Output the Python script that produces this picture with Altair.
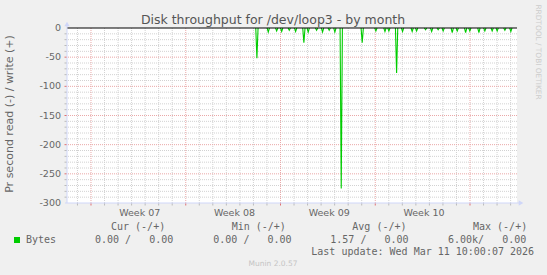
import altair as alt
import pandas as pd

# ---------------- data ----------------
TITLE = "Disk throughput for /dev/loop3 - by month"
Y_TITLE = "Pr second read (-) / write (+)"
WEEK_LABELS = ["Week 07", "Week 08", "Week 09", "Week 10"]
WEEK_STARTS = [1.773, 8.773, 15.773, 22.773, 29.773]   # days from left edge of plot
X_END = 33.245                                          # days shown
Y_TICKS = [0, -50, -100, -150, -200, -250, -300]

SPIKE_DAY = [14.03, 14.87, 15.49, 15.86, 16.42, 16.89, 17.50, 17.82, 18.44, 18.88,
             19.37, 19.79, 20.26, 21.81, 22.82, 23.49, 23.78, 24.35, 24.79, 25.50,
             25.83, 26.49, 26.94, 27.42, 27.79, 28.46, 28.83, 29.45, 29.76, 30.43,
             30.87, 31.41, 31.78, 32.35, 32.79]
SPIKE_READ = [-52, -7, -5, -6, -4, -6, -25, -7, -4, -7,
              -4, -7, -275, -25, -5, -6, -5, -77, -6, -6,
              -5, -3, -6, -3, -5, -8, -5, -8, -5, -8,
              -5, -5, -5, -4, -6]

LEGEND_HEAD = ["Cur (-/+)", "Min (-/+)", "Avg (-/+)", "Max (-/+)"]
LEGEND_SERIES = "Bytes"
LEGEND_VALS = ["0.00 /   0.00", "0.00 /   0.00", "1.57 /   0.00", "6.00k/   0.00"]
LAST_UPDATE = "Last update: Wed Mar 11 10:00:07 2026"
MUNIN = "Munin 2.0.57"
RRD = "RRDTOOL / TOBI OETIKER"

# ---------------- styling ----------------
W, H = 450, 175
FONT = "DejaVu Sans"
MONO = "DejaVu Sans Mono"
TXT = "#666666"
AXIS = "#CFD6F8"
MINOR = "#d2d2d2"
MAJOR = "#eaa8a8"
GREEN = "#00CC00"

X_SCALE = alt.Scale(domain=[0, X_END], nice=False, zero=False)
Y_SCALE = alt.Scale(domain=[-300, 0], nice=False, zero=False)

# line table built from spikes (each spike its own segment)
half = 0.085
rows = []
for i, (d, v) in enumerate(zip(SPIKE_DAY, SPIKE_READ)):
    rows += [(i, d - half, 0.0), (i, d, v), (i, d + half, 0.0)]
line_df = pd.DataFrame(rows, columns=["k", "day", "read"])

day_ticks = [WEEK_STARTS[0] - 1 + k for k in range(40) if 0 <= WEEK_STARTS[0] - 1 + k <= X_END]
minor_days = [d for d in day_ticks if all(abs(d - w) > 1e-6 for w in WEEK_STARTS)]
minor_y = [v for v in range(-290, 0, 10) if v % 50 != 0]
major_y = [v for v in Y_TICKS if v not in (0, -300)]

def X(field):
    return alt.X(field, type="quantitative", scale=X_SCALE, axis=None)

def Y(field):
    return alt.Y(field, type="quantitative", scale=Y_SCALE, axis=None)

def txt(s, x, y, size, font=FONT, color=TXT, align="left", baseline="middle", angle=0):
    return alt.Chart(pd.DataFrame({"t": [s]})).mark_text(
        align=align, baseline=baseline, font=font, fontSize=size, color=color, angle=angle
    ).encode(x=alt.value(x), y=alt.value(y), text="t:N")

layers = []

# grids
layers.append(alt.Chart(pd.DataFrame({"d": minor_days})).mark_rule(
    color=MINOR, strokeDash=[1, 1], strokeWidth=1).encode(x=X("d")))
layers.append(alt.Chart(pd.DataFrame({"v": minor_y})).mark_rule(
    color=MINOR, strokeDash=[1, 1], strokeWidth=1).encode(y=Y("v")))
layers.append(alt.Chart(pd.DataFrame({"d": WEEK_STARTS})).mark_rule(
    color=MAJOR, strokeDash=[1, 1], strokeWidth=1).encode(x=X("d")))
layers.append(alt.Chart(pd.DataFrame({"v": major_y})).mark_rule(
    color=MAJOR, strokeDash=[1, 1], strokeWidth=1).encode(y=Y("v")))
# x ticks below axis
layers.append(alt.Chart(pd.DataFrame({"d": minor_days})).mark_rule(color="#bbbbbb").encode(
    x=X("d"), y=alt.value(H), y2=alt.value(H + 2.5)))
layers.append(alt.Chart(pd.DataFrame({"d": WEEK_STARTS})).mark_rule(color="#e07070").encode(
    x=X("d"), y=alt.value(H), y2=alt.value(H + 2.5)))
# y ticks left of axis
layers.append(alt.Chart(pd.DataFrame({"v": minor_y})).mark_rule(color="#bbbbbb").encode(
    y=Y("v"), x=alt.value(-2.5), x2=alt.value(0)))
layers.append(alt.Chart(pd.DataFrame({"v": major_y})).mark_rule(color="#e07070").encode(
    y=Y("v"), x=alt.value(-2.5), x2=alt.value(0)))
# data
layers.append(alt.Chart(line_df).mark_line(color=GREEN, strokeWidth=1.1).encode(
    x=X("day"), y=Y("read"), detail="k:N"))
# zero line
layers.append(alt.Chart(pd.DataFrame({"v": [0]})).mark_rule(color="black", strokeWidth=1.2).encode(y=Y("v")))
# axes lines + arrows
layers.append(alt.Chart(pd.DataFrame({"a": [0]})).mark_rule(color=AXIS).encode(
    x=alt.value(0), y=alt.value(-3), y2=alt.value(H)))
layers.append(alt.Chart(pd.DataFrame({"a": [0]})).mark_rule(color=AXIS).encode(
    y=alt.value(H), x=alt.value(-2), x2=alt.value(W + 3)))
layers.append(alt.Chart(pd.DataFrame({"a": [0]})).mark_point(
    shape="triangle-up", filled=True, color=AXIS, opacity=1, size=28).encode(
    x=alt.value(0), y=alt.value(-4)))
layers.append(alt.Chart(pd.DataFrame({"a": [0]})).mark_point(
    shape="triangle-right", filled=True, color=AXIS, opacity=1, size=28).encode(
    x=alt.value(W + 4), y=alt.value(H)))
# y tick labels
layers.append(alt.Chart(pd.DataFrame({"v": Y_TICKS, "t": [str(v) for v in Y_TICKS]})).mark_text(
    font=FONT, fontSize=9.5, color=TXT, align="right", baseline="middle").encode(
    y=Y("v"), x=alt.value(-6), text="t:N"))
# week labels
layers.append(alt.Chart(pd.DataFrame({"d": [w + 3.6 for w in WEEK_STARTS[:4]], "t": WEEK_LABELS})).mark_text(
    font=FONT, fontSize=9.5, color=TXT, align="center", baseline="middle").encode(
    x=X("d"), y=alt.value(184.7), text="t:N"))

# texts
layers.append(txt(TITLE, 206, -4, 12.5, align="center", baseline="alphabetic", color="#555555"))
layers.append(txt(Y_TITLE, -57, 86, 11, align="center", angle=270))
for s, x in zip(LEGEND_HEAD, [44, 164.7, 285.3, 406]):
    layers.append(txt(s.replace(" ", "\u00a0"), x, 199.3, 10, font=MONO))
layers.append(alt.Chart(pd.DataFrame({"a": [0]})).mark_point(
    shape="square", filled=True, color=GREEN, opacity=1, size=36).encode(
    x=alt.value(-50), y=alt.value(212)))
layers.append(txt(LEGEND_SERIES, -41, 212, 10, font=MONO))
for s, x in zip(LEGEND_VALS, [28, 146.3, 263.3, 381]):
    layers.append(txt(s.replace(" ", "\u00a0"), x, 212, 10, font=MONO))
layers.append(txt(LAST_UPDATE.replace(" ", "\u00a0"), 244.3, 223.7, 10, font=MONO))
layers.append(txt(MUNIN, 206, 236, 7.5, color="#c4c4c4", align="center"))
layers.append(txt(RRD, 471, 24, 7.4, color="#cccccc", align="center", angle=90))

chart = alt.layer(*layers).properties(
    width=W, height=H, background="#F0F0F0",
    padding={"left": 67, "top": 28, "right": 30, "bottom": 72},
    autosize=alt.AutoSizeParams(type="none"),
).configure_view(strokeWidth=0, fill="white")

chart.save("out.html", embed_options={"renderer": "svg", "actions": False})
